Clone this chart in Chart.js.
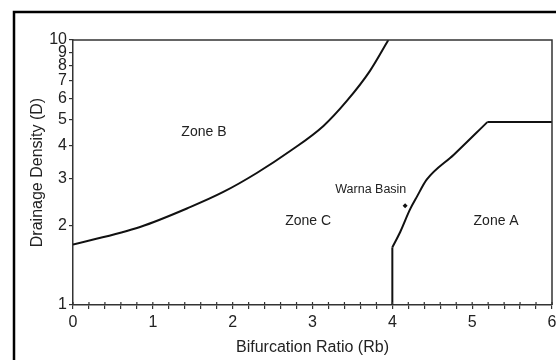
<!DOCTYPE html>
<html>
<head>
<meta charset="utf-8">
<script src="https://cdn.jsdelivr.net/npm/chart.js@4"></script>
<style>
  html, body { margin: 0; padding: 0; background: #fff; }
  #wrap { width: 556px; height: 360px; position: relative; }
</style>
</head>
<body>
<div id="wrap"><canvas id="chart1"></canvas></div>
<script>
// boundary between Zone B and Zone C
var zoneBx = [0, 0.84, 1.466, 1.883, 2.302, 2.72, 3.137, 3.43, 3.72, 3.95];
var zoneBy = [1.69, 1.97, 2.34, 2.67, 3.148, 3.81, 4.74, 5.89, 7.65, 10];

// boundary of Zone A (vertical foot, curve, flat top)
var zoneAfootX = [4, 4];
var zoneAfootY = [1, 1.65];
var zoneAcurveX = [4, 4.1, 4.22, 4.31, 4.43, 4.77, 5.19];
var zoneAcurveY = [1.65, 1.89, 2.29, 2.57, 2.97, 3.69, 4.9];
var zoneAtopX = [5.19, 6];
var zoneAtopY = [4.9, 4.9];

// Warna Basin
var basinX = [4.16];
var basinY = [2.37];

// ticks
var yTicks = [1, 2, 3, 4, 5, 6, 7, 8, 9, 10];
var xTicks = [];
for (var i = 0; i <= 30; i++) xTicks.push(Math.round(i * 2) / 10);

// text inside the plot
var zoneNames = ["Zone B", "Zone C", "Zone A", "Warna Basin"];
var zoneNameX = [1.64, 2.945, 5.3, 3.73];
var zoneNameY = [4.51, 2.08, 2.08, 2.72];
var zoneNameSize = [14, 14, 14, 12.5];

function pts(xs, ys) {
  return xs.map(function (x, i) { return { x: x, y: ys[i] }; });
}

var FONT = "'Liberation Sans', Arial, sans-serif";

const ctx = document.getElementById("chart1");

var lineStyle = {
  showLine: true,
  borderColor: "#111",
  backgroundColor: "#111",
  borderWidth: 2,
  pointRadius: 0,
  fill: false,
};

var myChart = new Chart(ctx, {
  type: "scatter",
  data: {
    datasets: [
      Object.assign({ data: pts(zoneBx, zoneBy), cubicInterpolationMode: "monotone" }, lineStyle),
      Object.assign({ data: pts(zoneAfootX, zoneAfootY), tension: 0 }, lineStyle),
      Object.assign({ data: pts(zoneAcurveX, zoneAcurveY), cubicInterpolationMode: "monotone" }, lineStyle),
      Object.assign({ data: pts(zoneAtopX, zoneAtopY), tension: 0 }, lineStyle),
      {
        data: pts(basinX, basinY),
        showLine: false,
        pointStyle: "rectRot",
        pointRadius: 2.5,
        backgroundColor: "#111",
        borderColor: "#111",
        borderWidth: 0,
      },
    ],
  },
  options: {
    responsive: true,
    maintainAspectRatio: false,
    animation: false,
    events: [],
    layout: { padding: { left: 0, right: 3, top: 40, bottom: 0 } },
    plugins: {
      legend: { display: false },
      tooltip: { enabled: false },
    },
    scales: {
      x: {
        type: "linear",
        min: 0,
        max: 6,
        afterFit: function (s) {
          s.height = 55;
          s.paddingLeft = 0;
          s.paddingRight = 0;
        },
        afterBuildTicks: function (s) {
          s.ticks = xTicks.map(function (v) { return { value: v }; });
        },
        border: { display: true, color: "#333", width: 1.5 },
        grid: { drawOnChartArea: false, drawTicks: true, tickLength: 4, color: "#333", lineWidth: 1.2 },
        ticks: {
          autoSkip: false,
          maxRotation: 0,
          padding: 4,
          color: "#222",
          font: { family: FONT, size: 16 },
          callback: function (v) {
            return Math.abs(v - Math.round(v)) < 1e-6 ? String(Math.round(v)) : "";
          },
        },
        title: {
          display: true,
          text: "Bifurcation Ratio (Rb)",
          color: "#222",
          font: { family: FONT, size: 16 },
          padding: { top: 0, bottom: 3 },
        },
      },
      y: {
        type: "logarithmic",
        min: 1,
        max: 10,
        afterFit: function (s) {
          s.width = 73;
          s.paddingTop = 0;
          s.paddingBottom = 0;
        },
        afterBuildTicks: function (s) {
          s.ticks = yTicks.map(function (v) { return { value: v }; });
        },
        border: { display: true, color: "#333", width: 1.5 },
        grid: { drawOnChartArea: false, drawTicks: true, tickLength: 4, color: "#333", lineWidth: 1.2 },
        ticks: {
          autoSkip: false,
          padding: 2,
          color: "#222",
          font: { family: FONT, size: 16 },
          callback: function (v) { return String(v); },
        },
        title: {
          display: true,
          text: "Drainage Density (D)",
          color: "#222",
          font: { family: FONT, size: 16 },
          padding: { top: 28, bottom: 0 },
        },
      },
    },
  },
  plugins: [
    {
      id: "frameAndText",
      afterDraw: function (chart) {
        const c = chart.ctx;
        const a = chart.chartArea;
        const xs = chart.scales.x;
        c.save();
        // outer frame
        c.strokeStyle = "#000";
        c.lineWidth = 2.5;
        c.beginPath();
        c.moveTo(14, 360);
        c.lineTo(14, 12);
        c.lineTo(556, 12);
        c.stroke();
        // top and right edge of the plot
        c.strokeStyle = "#333";
        c.lineWidth = 1.5;
        c.beginPath();
        c.moveTo(a.left, a.top);
        c.lineTo(a.right, a.top);
        c.lineTo(a.right, a.bottom);
        c.stroke();
        // x ticks cross the axis
        c.lineWidth = 1.2;
        c.beginPath();
        xTicks.forEach(function (v) {
          var px = xs.getPixelForValue(v);
          c.moveTo(px, a.bottom);
          c.lineTo(px, a.bottom - 3);
        });
        c.stroke();
        // zone labels
        c.fillStyle = "#222";
        c.textAlign = "center";
        c.textBaseline = "middle";
        zoneNames.forEach(function (t, i) {
          c.font = zoneNameSize[i] + "px " + FONT;
          c.fillText(t, xs.getPixelForValue(zoneNameX[i]), chart.scales.y.getPixelForValue(zoneNameY[i]));
        });
        c.restore();
      },
    },
  ],
});
</script>
</body>
</html>
